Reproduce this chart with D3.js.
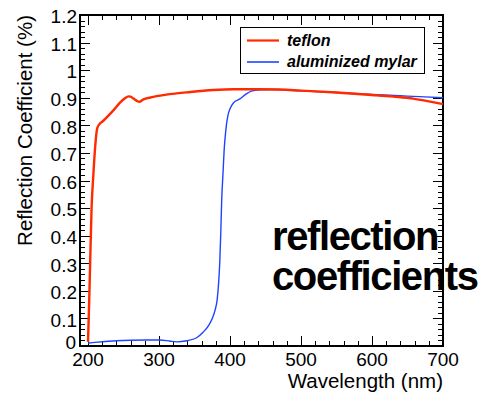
<!DOCTYPE html>
<html><head><meta charset="utf-8">
<script src="https://cdn.jsdelivr.net/npm/d3@7"></script>
<style>body{margin:0;background:#fff}svg{display:block}text{font-family:"Liberation Sans",Arial,Helvetica,sans-serif}</style>
</head><body><svg id="c" width="481" height="397"></svg>
<script>
const teflonWl = [200,201.5,203,205,207.5,210,213,217,220,226,236,245,252,257,260,264,270,272,278,292,315,344,376,405,440,470,500,550,600,630,658,682,700];
const teflonR  = [0.015,0.15,0.3,0.5,0.62,0.72,0.79,0.807,0.813,0.828,0.855,0.882,0.898,0.905,0.904,0.897,0.887,0.885,0.894,0.903,0.913,0.921,0.928,0.931,0.931,0.93,0.926,0.919,0.91,0.904,0.897,0.886,0.877];
const mylarWl = [200,210,240,260,283,301,315,325,339,353,362,370,375,379,382,384,385.5,387,388.3,390,392,394,397,400,405,414,423,430,442,460,480,500,550,600,650,700];
const mylarR  = [0.01,0.013,0.019,0.021,0.022,0.022,0.018,0.015,0.019,0.03,0.05,0.075,0.1,0.13,0.17,0.23,0.3,0.41,0.53,0.62,0.72,0.78,0.835,0.86,0.882,0.896,0.914,0.924,0.929,0.93,0.928,0.925,0.919,0.912,0.906,0.9];
const xTicks = [200,300,400,500,600,700];
const yTicks = [0,0.1,0.2,0.3,0.4,0.5,0.6,0.7,0.8,0.9,1,1.1,1.2];
const seriesNames = ["teflon","aluminized mylar"];
const seriesColors = ["#ff2a00","#1f44ff"];

const svg = d3.select("#c");
const L=80,R=443,T=15,B=346;
const x = d3.scaleLinear().domain([188.7,700]).range([L,R]);
const y = d3.scaleLinear().domain([0,1.2]).range([B,T]);

// minor + major ticks (inward, all four sides)
const g = svg.append("g").attr("stroke","#000").attr("stroke-width",1);
const xMinor = d3.range(200,700.1,20);
xMinor.forEach(v=>{
  const major = xTicks.includes(v);
  const len = major?10:5;
  const px = Math.round(x(v))+0.5;
  g.append("line").attr("x1",px).attr("x2",px).attr("y1",B).attr("y2",B-len);
  g.append("line").attr("x1",px).attr("x2",px).attr("y1",T).attr("y2",T+len);
});
const yMinor = d3.range(0,60.1,1).map(i=>i*0.02);
yMinor.forEach((v,i)=>{
  const major = i%5===0;
  const len = major?10:5;
  const py = Math.round(y(v))+0.5;
  g.append("line").attr("x1",L).attr("x2",L+len).attr("y1",py).attr("y2",py);
  g.append("line").attr("x1",R).attr("x2",R-len).attr("y1",py).attr("y2",py);
});

// frame
svg.append("rect").attr("x",L).attr("y",T).attr("width",R-L).attr("height",B-T)
  .attr("fill","none").attr("stroke","#000").attr("stroke-width",2);

// tick labels
svg.append("g").selectAll("text").data(xTicks).join("text")
  .attr("x",d=>x(d)).attr("y",366).attr("text-anchor","middle")
  .attr("font-size",19).text(d=>d);
svg.append("g").selectAll("text").data(yTicks).join("text")
  .attr("x",d=>d===0?76:77).attr("y",d=>y(d)+(d===0?2.5:8.3)).attr("text-anchor","end")
  .attr("font-size",19).text(d=>d3.format("~g")(d));

// axis titles
svg.append("text").attr("x",R).attr("y",388).attr("text-anchor","end")
  .attr("font-size",20.5).text("Wavelength (nm)");
svg.append("text").attr("transform",`translate(32,${T}) rotate(-90)`).attr("text-anchor","end")
  .attr("font-size",20.5).text("Reflection Coefficient (%)");

// lines
const line = d3.line().x(d=>x(d[0])).y(d=>y(d[1])).curve(d3.curveMonotoneX);
const mylar = mylarWl.map((w,i)=>[w,mylarR[i]]);
const teflon = teflonWl.map((w,i)=>[w,teflonR[i]]);
svg.append("path").datum(mylar).attr("d",line).attr("fill","none")
  .attr("stroke",seriesColors[1]).attr("stroke-width",1.4);
svg.append("path").datum(teflon).attr("d",line).attr("fill","none")
  .attr("stroke",seriesColors[0]).attr("stroke-width",2.4).attr("stroke-linejoin","round");

// legend
const lg = svg.append("g");
lg.append("rect").attr("x",240.5).attr("y",27.5).attr("width",184).attr("height",46)
  .attr("fill","#fff").attr("stroke","#000").attr("stroke-width",1);
seriesNames.forEach((n,i)=>{
  const yy = [40.5,62][i];
  lg.append("line").attr("x1",247).attr("x2",279).attr("y1",yy).attr("y2",yy)
    .attr("stroke",seriesColors[i]).attr("stroke-width",i===0?2.2:1.6);
  lg.append("text").attr("x",287).attr("y",[46,66.5][i]).attr("font-size",16)
    .attr("font-weight","bold").attr("font-style","italic").text(n);
});

// annotation
const ann = svg.append("g").attr("font-size",40).attr("font-weight","bold").attr("letter-spacing","-1.4px");
ann.append("text").attr("x",272).attr("y",250).text("reflection");
ann.append("text").attr("x",272).attr("y",290).text("coefficients");
</script></body></html>
